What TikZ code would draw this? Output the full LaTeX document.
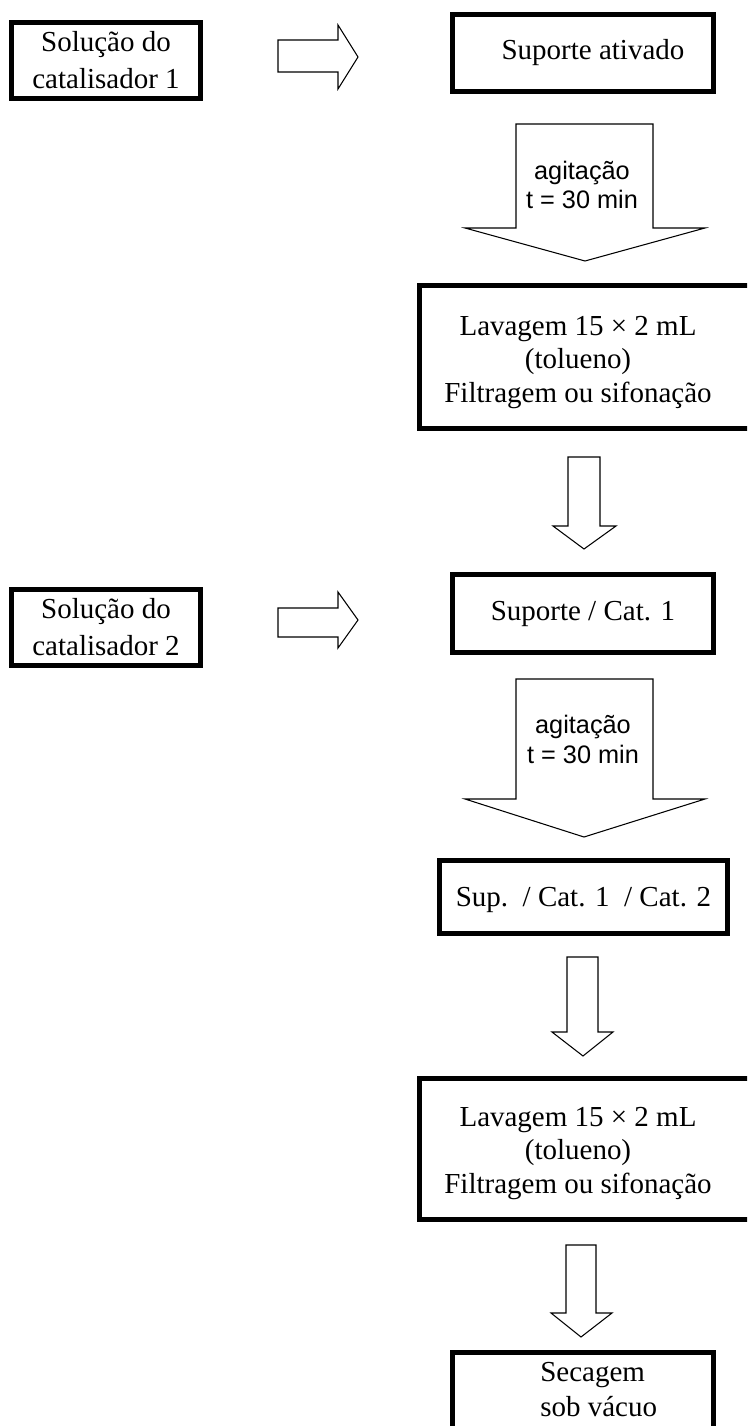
\documentclass[tikz,border=0pt]{standalone}
\usepackage{fontspec}
\setmainfont{Liberation Serif}
\setsansfont{Liberation Sans}

\tikzset{
    procbox/.style={draw, line width=0.1cm, inner sep=0pt, align=center,
        font=\fontsize{16.5}{21}\selectfont},
    boxtext/.style={inner sep=0pt, align=center, font=\fontsize{16.5}{19}\selectfont},
    blockarrow/.style={draw, line width=0.6pt, fill=white, line join=miter},
    steptext/.style={inner sep=0pt, align=center, font=\sffamily\fontsize{14.4}{17}\selectfont}
}

\begin{document}
\begin{tikzpicture}[x=0.02cm, y=-0.02cm]
    \useasboundingbox (0,0) rectangle (747,1426);
    \clip (0,0) rectangle (747,1426);

    % left column
    \node[procbox, minimum width=3.78cm, minimum height=1.52cm] (cat1) at (106,60.5) {Solução do\\catalisador 1};
    \node[procbox, minimum width=3.78cm, minimum height=1.52cm] (cat2) at (106,627.5) {Solução do\\catalisador 2};

    % right column
    \node[procbox, minimum width=5.22cm, minimum height=1.54cm] (ativ) at (583,53) {\hspace*{0.4cm}Suporte ativado};
    \node[procbox, minimum width=6.96cm, minimum height=2.86cm] (lav1) at (593.5,357) {};
    \node[boxtext] (lav1t) at (578,362.5) {Lavagem 15 × 2 mL\\(tolueno)\\Filtragem ou sifonação};
    \node[procbox, minimum width=5.22cm, minimum height=1.56cm] (sup1) at (583,613.5) {Suporte / Cat. 1};
    \node[procbox, minimum width=5.76cm, minimum height=1.46cm, text height=0.5cm] (sup2) at (583.5,897) {Sup.\ \ / Cat. 1\ \ / Cat. 2};
    \node[procbox, minimum width=6.96cm, minimum height=2.82cm] (lav2) at (593.5,1149) {};
    \node[boxtext] (lav2t) at (578,1153.5) {Lavagem 15 × 2 mL\\(tolueno)\\Filtragem ou sifonação};
    \node[procbox, minimum width=5.22cm, minimum height=1.9cm] (sec) at (583,1400) {};
    \node[boxtext, align=left, font=\fontsize{16.5}{20}\selectfont, anchor=west] (sect) at (540,1389.5) {Secagem\\sob vácuo};

    % arrows to the right
    \draw[blockarrow] (278,40) -- (338,40) -- (338,25) -- (358,57) -- (338,89) -- (338,72) -- (278,72) -- cycle;
    \draw[blockarrow] (278,608) -- (338,608) -- (338,592) -- (358,620) -- (338,648) -- (338,637) -- (278,637) -- cycle;

    % stirring steps
    \draw[blockarrow] (516,124) -- (653,124) -- (653,228) -- (705,228) -- (585,261) -- (465,228) -- (516,228) -- cycle;
    \node[steptext] (agit1) at (582,185) {agitação\\t = 30 min};
    \draw[blockarrow] (516,679) -- (653,679) -- (653,799) -- (705,799) -- (584,837) -- (465,799) -- (516,799) -- cycle;
    \node[steptext] (agit2) at (583,739.5) {agitação\\t = 30 min};

    % down arrows
    \draw[blockarrow] (568,457) -- (600,457) -- (600,526) -- (616,526) -- (584,549) -- (553,526) -- (568,526) -- cycle;
    \draw[blockarrow] (567,957) -- (598,957) -- (598,1032) -- (613,1032) -- (583,1056) -- (552,1032) -- (567,1032) -- cycle;
    \draw[blockarrow] (566,1245) -- (596,1245) -- (596,1313) -- (612,1313) -- (581,1337) -- (551,1313) -- (566,1313) -- cycle;
\end{tikzpicture}
\end{document}
